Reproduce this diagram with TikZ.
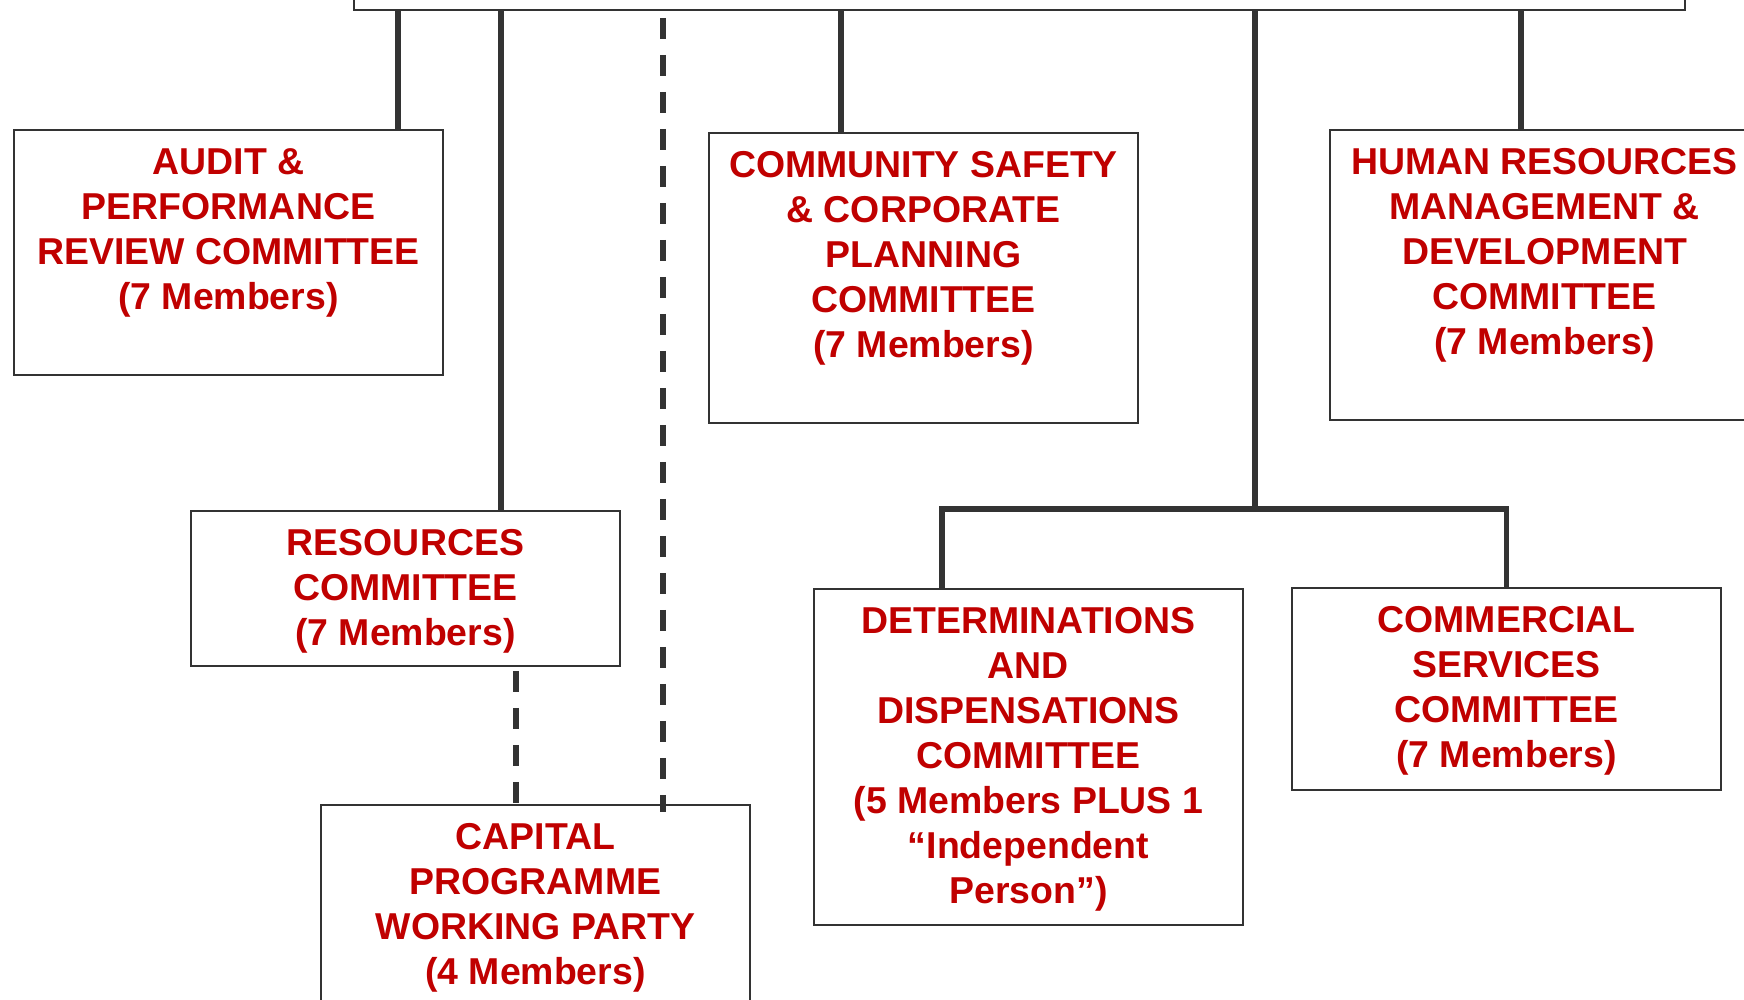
\documentclass[tikz,border=0pt]{standalone}
\usepackage{fontspec}
\setmainfont{Liberation Sans}
\usetikzlibrary{positioning}
\definecolor{boxred}{HTML}{C00000}
\definecolor{linegrey}{HTML}{333333}

\begin{document}
\begin{tikzpicture}[x=0.02cm, y=-0.02cm, line join=miter,
  box/.style={draw=linegrey, line width=0.04cm, fill=white, minimum width=8.58cm, anchor=north west, inner sep=0pt},
  lbl/.style={text=boxred, font=\fontsize{21.3}{25.6}\selectfont\bfseries, align=center, inner sep=0pt},
  conn/.style={draw=linegrey, line width=0.114cm},
  dashconn/.style={conn, dash pattern=on 0.42cm off 0.32cm}]
\useasboundingbox (0,0) rectangle (1744,1000);
\clip (0,0) rectangle (1744,1000);
\path
(398,0) coordinate (xaudit)
(501,0) coordinate (xres)
(841,0) coordinate (xsafety)
(1521,0) coordinate (xhr)
(1255,0) coordinate (xtrunk)
(942,0) coordinate (xdet)
(516,0) coordinate (xcap)
(1255,509) coordinate (bar)
(663,812) coordinate (dashend)
;

\node[box, minimum width=26.62cm, minimum height=2cm, anchor=south west] (council) at (353,11) {};
\node[box, minimum height=4.9cm] (audit) at (13,129) {};
\node[box, minimum height=5.8cm] (safety) at (708,132) {};
\node[box, minimum height=5.8cm] (hr) at (1329,129) {};
\node[box, minimum height=3.1cm] (resources) at (190,510) {};
\node[box, minimum height=5cm] (capital) at (320,804) {};
\node[box, minimum height=6.72cm] (determ) at (813,588) {};
\node[box, minimum height=4.04cm] (commercial) at (1291,587) {};

\node[lbl, below=0.38cm of audit.north] (audit-t) {AUDIT \&\\PERFORMANCE\\REVIEW COMMITTEE\\(7 Members)};
\node[lbl, below=0.38cm of safety.north] (safety-t) {COMMUNITY SAFETY\\\& CORPORATE\\PLANNING\\COMMITTEE\\(7 Members)};
\node[lbl, below=0.38cm of hr.north] (hr-t) {HUMAN RESOURCES\\MANAGEMENT \&\\DEVELOPMENT\\COMMITTEE\\(7 Members)};
\node[lbl, below=0.38cm of resources.north] (resources-t) {RESOURCES\\COMMITTEE\\(7 Members)};
\node[lbl, below=0.38cm of capital.north] (capital-t) {CAPITAL\\PROGRAMME\\WORKING PARTY\\(4 Members)};
\node[lbl, below=0.38cm of determ.north] (determ-t) {DETERMINATIONS\\AND\\DISPENSATIONS\\COMMITTEE\\(5 Members PLUS 1\\“Independent\\Person”)};
\node[lbl, below=0.38cm of commercial.north] (commercial-t) {COMMERCIAL\\SERVICES\\COMMITTEE\\(7 Members)};

\foreach \n/\x in {audit/xaudit, resources/xres, safety/xsafety, hr/xhr}
\draw[conn] (council.south -| \x) -- (\n.north -| \x);
\draw[conn] (council.south -| xtrunk) -- (bar);
\draw[conn] (determ.north -| xdet) |- (bar) -| (commercial.north);

\draw[dashconn, dash phase=0.6cm] (council.south -| dashend) -- (dashend);
\draw[dashconn, dash phase=0.66cm] (resources.south -| xcap) -- (capital.north -| xcap);
\end{tikzpicture}
\end{document}
